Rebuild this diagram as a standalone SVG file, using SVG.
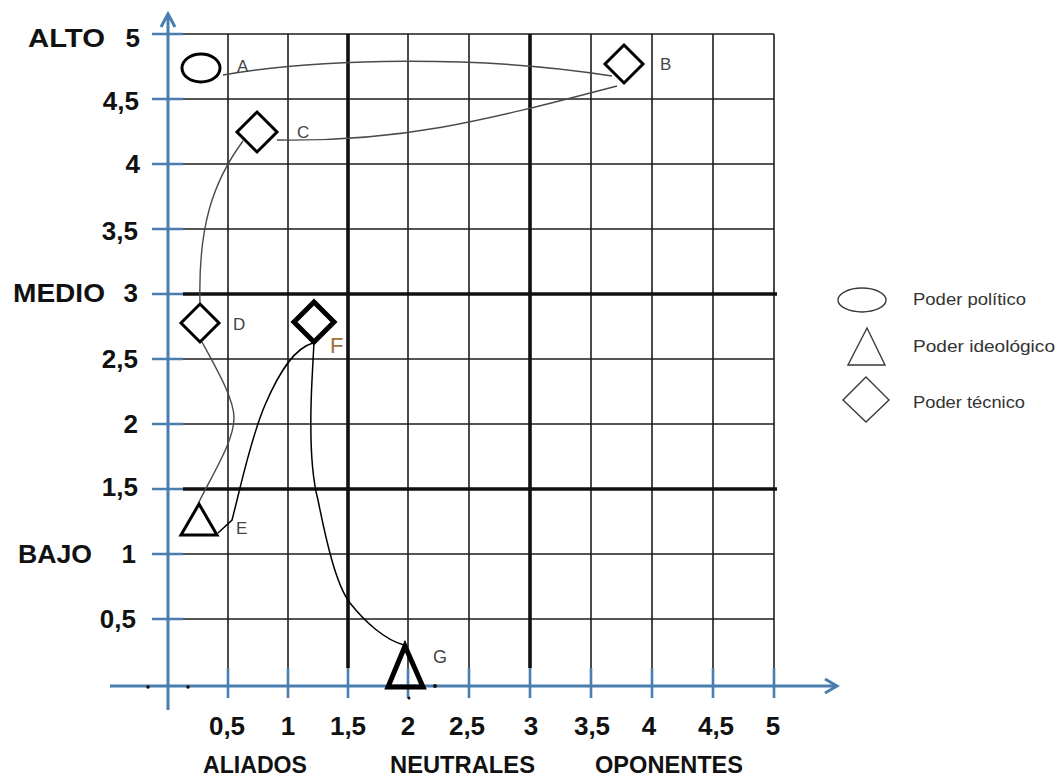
<svg xmlns="http://www.w3.org/2000/svg" width="1058" height="778" viewBox="0 0 1058 778">
<style>
.bg{fill:#ffffff}
.grid{stroke:#1e1e1e;stroke-width:1.6;fill:none}
.thick{stroke:#111;stroke-width:3.6;fill:none}
.axis{stroke:#4a7db0;stroke-width:3;fill:none}
.tick{stroke:#4a7db0;stroke-width:2.6}
.ax{font-family:"Liberation Sans",Arial,sans-serif;font-weight:bold;font-size:26px;fill:#111}
.axw{font-family:"Liberation Sans",Arial,sans-serif;font-weight:bold;font-size:23.5px;fill:#111}
.shape{fill:none;stroke:#000;stroke-width:3;stroke-linejoin:miter}
.bold{fill:none;stroke:#000;stroke-width:5;stroke-linejoin:miter}
.lbl{font-family:"Liberation Sans",Arial,sans-serif;font-size:17px;fill:#444}
.conn{fill:none;stroke:#4a4a4a;stroke-width:1.4}
.conn2{fill:none;stroke:#000;stroke-width:1.5}
.leg{fill:none;stroke:#3a3a3a;stroke-width:1.4}
.legt{font-family:"Liberation Sans",Arial,sans-serif;font-size:17px;fill:#333}
</style>
<rect class="bg" x="0" y="0" width="1058" height="778"/>
<g id="grid">
  <path class="grid" d="M183,34H774 M183,99H774 M183,164H774 M183,229H774 M183,359H774 M183,424H774 M183,554H774 M183,619H774"/>
  <path class="grid" d="M228,34V668 M288,34V668 M408,34V668 M469,34V668 M591,34V668 M652,34V668 M713,34V668 M774,34V668"/>
  <path class="thick" d="M348,34V668 M530,34V668 M183,294H777 M183,489H777"/>
</g>
<g id="axes">
  <path class="axis" d="M168,710V16"/>
  <path class="axis" d="M161,27L168,14L175,27"/>
  <path class="axis" d="M110,686H836"/>
  <path class="axis" d="M825,679L837,686L825,693"/>
  <path class="tick" d="M152,34H183 M152,99H183 M152,164H183 M152,229H183 M152,294H183 M152,359H183 M152,424H183 M152,489H183 M152,554H183 M152,619H183"/>
  <path class="tick" d="M228,668V698 M288,668V698 M348,668V698 M408,668V698 M469,668V698 M530,668V698 M591,668V698 M652,668V698 M713,668V698 M774,668V698"/>
  <circle cx="148" cy="687" r="1.8" fill="#111"/>
  <circle cx="188" cy="687" r="1.8" fill="#111"/>
  <circle cx="435" cy="686" r="2" fill="#111"/>
  <circle cx="409" cy="698" r="1.5" fill="#111"/>
</g>
<g id="y-labels">
  <text class="ax" x="28" y="47" textLength="77" lengthAdjust="spacingAndGlyphs">ALTO</text>
  <text class="ax" x="140" y="47" text-anchor="end">5</text>
  <text class="ax" x="139" y="110" text-anchor="end">4,5</text>
  <text class="ax" x="140" y="173" text-anchor="end">4</text>
  <text class="ax" x="138" y="240" text-anchor="end">3,5</text>
  <text class="ax" x="13" y="302" textLength="92" lengthAdjust="spacingAndGlyphs">MEDIO</text>
  <text class="ax" x="138" y="302" text-anchor="end">3</text>
  <text class="ax" x="138" y="368" text-anchor="end">2,5</text>
  <text class="ax" x="138" y="433" text-anchor="end">2</text>
  <text class="ax" x="138" y="496" text-anchor="end">1,5</text>
  <text class="ax" x="18" y="563" textLength="74" lengthAdjust="spacingAndGlyphs">BAJO</text>
  <text class="ax" x="136" y="563" text-anchor="end">1</text>
  <text class="ax" x="136" y="628" text-anchor="end">0,5</text>
</g>
<g id="x-labels">
  <text class="ax" x="227" y="735" text-anchor="middle">0,5</text>
  <text class="ax" x="288" y="735" text-anchor="middle">1</text>
  <text class="ax" x="348" y="735" text-anchor="middle">1,5</text>
  <text class="ax" x="408" y="735" text-anchor="middle">2</text>
  <text class="ax" x="467" y="735" text-anchor="middle">2,5</text>
  <text class="ax" x="531" y="735" text-anchor="middle">3</text>
  <text class="ax" x="592" y="735" text-anchor="middle">3,5</text>
  <text class="ax" x="649" y="735" text-anchor="middle">4</text>
  <text class="ax" x="716" y="735" text-anchor="middle">4,5</text>
  <text class="ax" x="773" y="735" text-anchor="middle">5</text>
  <text class="axw" x="203" y="773" textLength="104" lengthAdjust="spacingAndGlyphs">ALIADOS</text>
  <text class="axw" x="390" y="773" textLength="145" lengthAdjust="spacingAndGlyphs">NEUTRALES</text>
  <text class="axw" x="595" y="773" textLength="148" lengthAdjust="spacingAndGlyphs">OPONENTES</text>
</g>
<g id="connectors">
  <path class="conn" d="M223,75 C320,58 480,55 612,76"/>
  <path class="conn" d="M277,140 C400,142 480,122 617,86"/>
  <path class="conn" d="M243,141 C212,183 198,228 200,304"/>
  <path class="conn" d="M202,342 C220,375 234,400 234,418 C234,440 215,470 199,502"/>
  <path class="conn2" d="M218,533 L232,520 C240,490 250,440 265,405 C280,370 295,348 313,343"/>
  <path class="conn2" d="M314,342 L312,380 C310,420 310,470 318,500 C326,540 336,585 350,603 C365,622 385,640 404,645"/>
</g>
<g id="node-A">
  <ellipse class="shape" cx="201" cy="68" rx="19" ry="14"/>
  <text class="lbl" x="237" y="72">A</text>
</g>
<g id="node-B">
  <polygon class="shape" points="624,45 643,64 624,83 605,64"/>
  <text class="lbl" x="660" y="70" fill="#5a3a3a">B</text>
</g>
<g id="node-C">
  <polygon class="shape" points="257,112 277,132 257,152 237,132"/>
  <text class="lbl" x="297" y="138">C</text>
</g>
<g id="node-D">
  <polygon class="shape" points="200,304 219,323 200,342 181,323"/>
  <text class="lbl" x="233" y="330">D</text>
</g>
<g id="node-E">
  <polygon class="shape" points="199,504 181,535 217,535"/>
  <text class="lbl" x="236" y="534">E</text>
</g>
<g id="node-F">
  <polygon class="bold" points="314,302 334,322 314,342 294,322"/>
  <text class="lbl" x="330" y="353" style="font-size:22px;fill:#a0703a">F</text>
</g>
<g id="node-G">
  <polygon class="bold" points="405,646 388,687 423,687"/>
  <text class="lbl" x="433" y="663" style="font-size:18px">G</text>
</g>
<g id="legend">
  <g id="legend-politico">
    <ellipse class="leg" cx="862" cy="300" rx="24" ry="12"/>
    <text class="legt" x="913" y="305" textLength="113" lengthAdjust="spacingAndGlyphs">Poder político</text>
  </g>
  <g id="legend-ideologico">
    <polygon class="leg" points="867,328 848,365 885,365"/>
    <text class="legt" x="913" y="352" textLength="142" lengthAdjust="spacingAndGlyphs">Poder ideológico</text>
  </g>
  <g id="legend-tecnico">
    <polygon class="leg" points="866,377 889,400 866,422 843,400"/>
    <text class="legt" x="913" y="408" textLength="112" lengthAdjust="spacingAndGlyphs">Poder técnico</text>
  </g>
</g>
</svg>
